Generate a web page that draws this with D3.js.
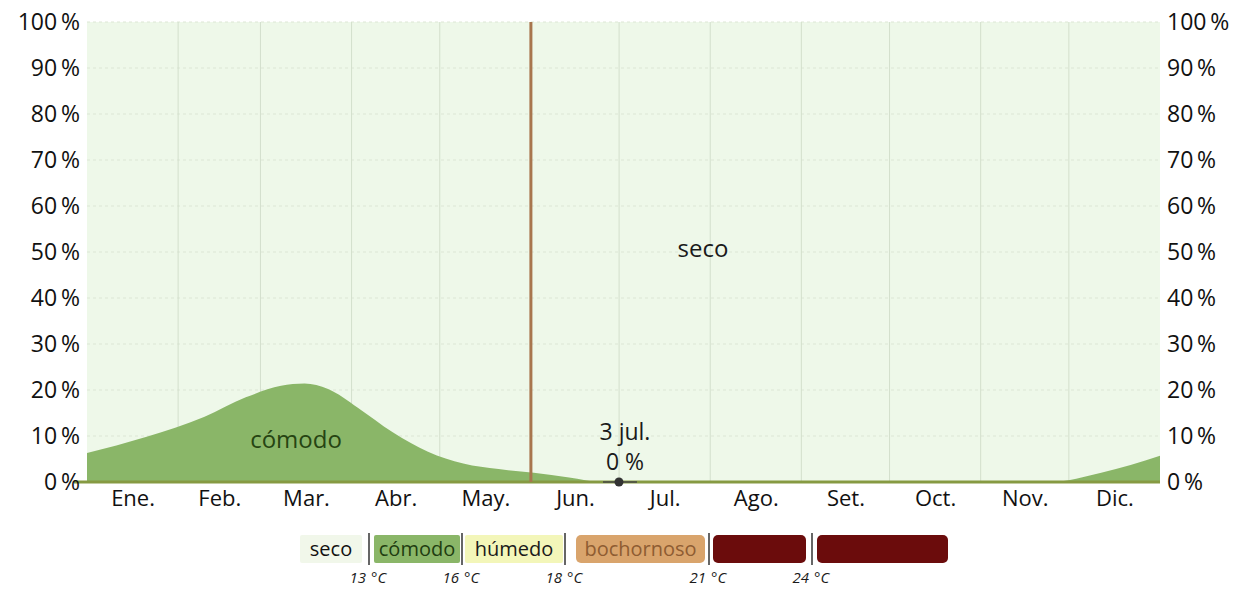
<!DOCTYPE html>
<html>
<head>
<meta charset="utf-8">
<script src="https://cdn.jsdelivr.net/npm/d3@7"></script>
<style>
body{margin:0;background:#fff;font-family:"Open Sans",sans-serif;overflow:hidden;}
svg{display:block;}
</style>
</head>
<body>
<div id="chart-area"></div>
<script>
// ---------DATA-----------
let months=["Ene.","Feb.","Mar.","Abr.","May.","Jun.","Jul.","Ago.","Set.","Oct.","Nov.","Dic."];
let monthStarts=[0,31,59,90,120,151,181,212,243,273,304,334,365];
let yTicks=[0,10,20,30,40,50,60,70,80,90,100];

// percentage of "cómodo" days (day of year, %)
let comfortDays=[0,20,40,54,66,74,82,92,104,116,128,140,152,164,175,328,345,365];
let comfortPct=[6.3,9.8,14.2,18.4,20.9,21.4,20.2,16.2,10.8,6.6,4,2.8,2,1,0,0,2,5.7];

let markerDay=151;
let annotDay=183;
let annotText=["3 jul.","0 %"];

let legendNames=["seco","cómodo","húmedo","bochornoso","",""];
let legendTemps=[13,16,18,21,24];

// ---------SVG-------------
let W=1250,H=591;
let svg=d3.select("#chart-area").append("svg")
	.attr("width",W)
	.attr("height",H);

let x=d3.scaleLinear().domain([0,365]).range([87,1160]);
let y=d3.scaleLinear().domain([0,100]).range([482,22]);

// background
svg.append("rect")
	.attr("x",x(0)).attr("y",y(100))
	.attr("width",x(365)-x(0)).attr("height",y(0)-y(100))
	.attr("fill","#eef8e9");

// grid
svg.append("g").selectAll("line").data(yTicks.slice(1)).enter().append("line")
	.attr("x1",x(0)).attr("x2",x(365))
	.attr("y1",d=>y(d)).attr("y2",d=>y(d))
	.attr("stroke","#dce6d5").attr("stroke-width",1).attr("stroke-dasharray","3,3");

svg.append("g").selectAll("line").data(monthStarts.slice(1,12)).enter().append("line")
	.attr("x1",d=>x(d)).attr("x2",d=>x(d))
	.attr("y1",y(100)).attr("y2",y(0))
	.attr("stroke","#d3dfcc").attr("stroke-width",1);

// comfort area
let comfort=comfortDays.map((d,i)=>({day:d,v:comfortPct[i]}));
let area=d3.area()
	.x(d=>x(d.day))
	.y0(y(0))
	.y1(d=>y(d.v))
	.curve(d3.curveMonotoneX);

svg.append("path")
	.datum(comfort)
	.attr("d",area)
	.attr("fill","#8ab668");

// base line
svg.append("line")
	.attr("x1",74).attr("x2",x(365))
	.attr("y1",y(0)).attr("y2",y(0))
	.attr("stroke","#869a42").attr("stroke-width",3);

// today marker
svg.append("line")
	.attr("x1",x(markerDay)).attr("x2",x(markerDay))
	.attr("y1",y(100)).attr("y2",y(0))
	.attr("stroke","#a8764e").attr("stroke-width",3);

// region labels
svg.append("text")
	.attr("x",703).attr("y",y(49))
	.attr("text-anchor","middle").attr("font-size","24px").attr("fill","#1a1a1a")
	.text("seco");
svg.append("text")
	.attr("x",296).attr("y",y(7.4))
	.attr("text-anchor","middle").attr("font-size","24px").attr("fill","#264412")
	.text("cómodo");

// annotation
svg.append("line")
	.attr("x1",x(annotDay)-22).attr("x2",x(annotDay)+12)
	.attr("y1",y(0)).attr("y2",y(0))
	.attr("stroke","#444").attr("stroke-width",1.5);
svg.append("circle")
	.attr("cx",x(annotDay)-6).attr("cy",y(0)).attr("r",4.5)
	.attr("fill","#333");
annotText.forEach(function(t,i){
	svg.append("text")
		.attr("x",x(annotDay)).attr("y",y(0)-42+i*30)
		.attr("text-anchor","middle").attr("font-size","23px").attr("fill","#1a1a1a")
		.text(t);
});

// ---------AXES------------
let fmt=d=>d+"\u2009%";
let yAxisL=svg.append("g")
	.attr("transform","translate(80,0)")
	.call(d3.axisLeft(y).tickValues(yTicks).tickFormat(fmt).tickSize(0).tickPadding(0));
let yAxisR=svg.append("g")
	.attr("transform","translate(1167,0)")
	.call(d3.axisRight(y).tickValues(yTicks).tickFormat(fmt).tickSize(0).tickPadding(0));

let mids=months.map((m,i)=>(monthStarts[i]+monthStarts[i+1])/2);
let xAxis=svg.append("g")
	.attr("transform","translate(0,"+(y(0)+3)+")")
	.call(d3.axisBottom(x).tickValues(mids).tickFormat((d,i)=>months[i]).tickSize(0).tickPadding(5));

[yAxisL,yAxisR,xAxis].forEach(function(a){
	a.select(".domain").remove();
	a.selectAll("text")
		.attr("font-family","'Open Sans',sans-serif")
		.attr("font-size","22px")
		.attr("fill","#111");
});
yAxisL.selectAll("text").attr("font-size","23px");
yAxisR.selectAll("text").attr("font-size","23px");

// ---------LEGEND----------
let legendBoxes=[[300,362],[374,460],[465,563],[576,705],[713,806],[817,948]];
let legendFill=["#f1f7ea","#8ab668","#f3f6b9","#d9a46c","#6b0c0c","#6b0c0c"];
let legendText=["#111","#1f3d10","#1a1a1a","#8e5c32","#fff","#fff"];
let sepX=[369,462,565,709,812];
let ly0=535,ly1=563;

legendBoxes.forEach(function(b,i){
	svg.append("rect")
		.attr("x",b[0]).attr("y",ly0)
		.attr("width",b[1]-b[0]).attr("height",ly1-ly0)
		.attr("rx",i>=3?5:2)
		.attr("fill",legendFill[i]);
	svg.append("text")
		.attr("x",(b[0]+b[1])/2).attr("y",(ly0+ly1)/2+7)
		.attr("text-anchor","middle").attr("font-size","20px")
		.attr("fill",legendText[i])
		.text(legendNames[i]);
});

sepX.forEach(function(sx,i){
	svg.append("line")
		.attr("x1",sx).attr("x2",sx)
		.attr("y1",ly0-2).attr("y2",ly1+2)
		.attr("stroke","#333").attr("stroke-width",1.5);
	svg.append("text")
		.attr("x",sx-3).attr("y",583)
		.attr("text-anchor","end").attr("font-size","15px").attr("font-style","italic")
		.attr("fill","#1a1a1a")
		.text(legendTemps[i]);
	svg.append("text")
		.attr("x",sx+2).attr("y",583)
		.attr("font-size","15px").attr("font-style","italic")
		.attr("fill","#1a1a1a")
		.text("°C");
});
</script>
</body>
</html>
